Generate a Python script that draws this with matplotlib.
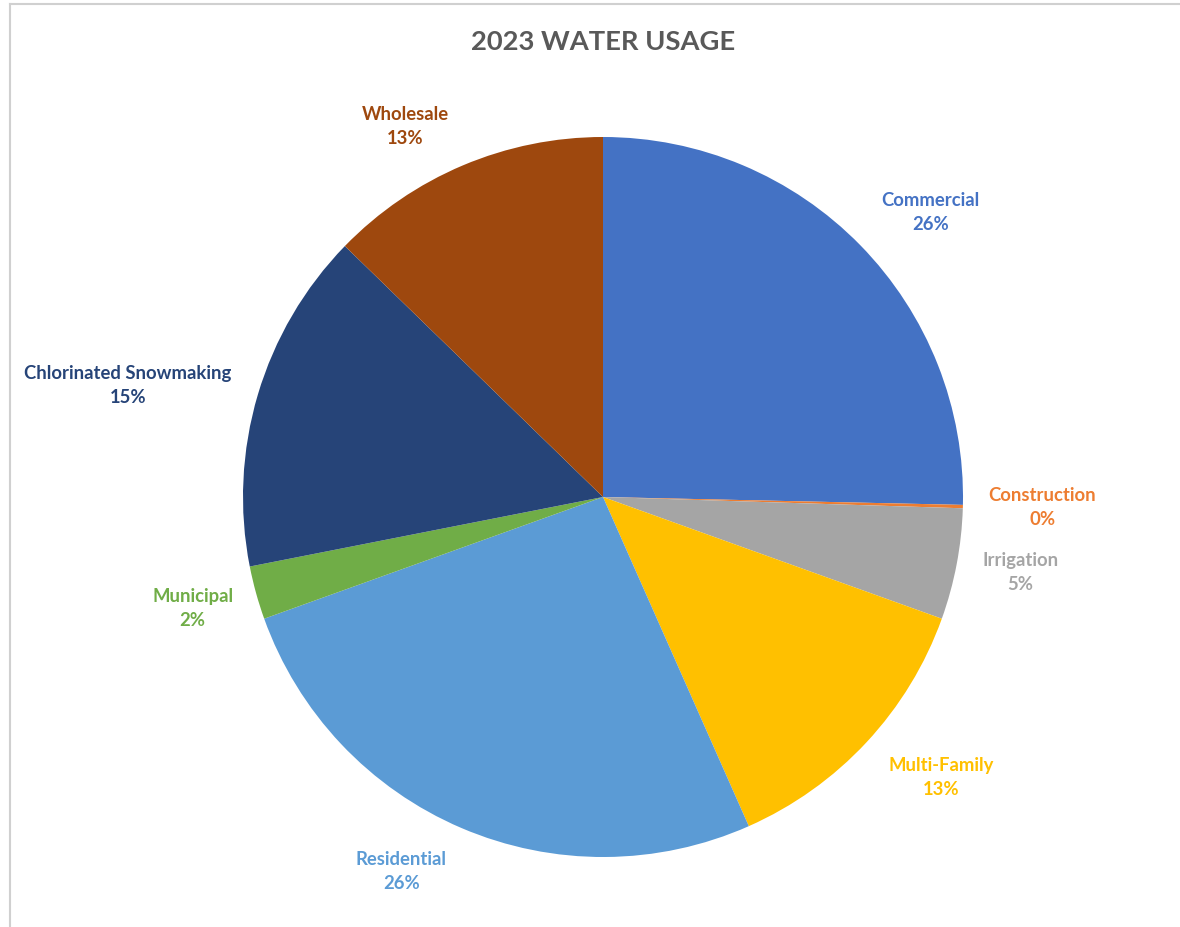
import matplotlib.pyplot as plt

# 2023 water usage shares (percent), clockwise from 12 o'clock
categories = ['Commercial', 'Construction', 'Irrigation', 'Multi-Family',
              'Residential', 'Municipal', 'Chlorinated Snowmaking', 'Wholesale']
shares = [25.4, 0.15, 5.0, 12.9, 26.2, 2.4, 15.4, 12.75]
pct_labels = ['26%', '0%', '5%', '13%', '26%', '2%', '15%', '13%']
colors = ['#4472C4', '#ED7D31', '#A5A5A5', '#FFC000',
          '#5B9BD5', '#70AD47', '#264478', '#9E480E']

# label centres, in units of the pie radius
label_pos = [(0.91, 0.79), (1.22, -0.03), (1.16, -0.21), (0.94, -0.78),
             (-0.56, -1.04), (-1.14, -0.31), (-1.32, 0.31), (-0.55, 1.03)]

plt.rcParams['font.family'] = ['Lato', 'DejaVu Sans']

fig = plt.figure(figsize=(11.8, 9.27), dpi=100)
ax = fig.add_axes([0, 0, 1, 1])
ax.pie(shares, colors=colors, startangle=90, counterclock=False, radius=1,
       wedgeprops=dict(linewidth=0))
ax.set_xlim(-603 / 360, (1180 - 603) / 360)
ax.set_ylim(-(927 - 497) / 360, 497 / 360)
ax.set_aspect('equal')
ax.axis('off')

for name, pct, col, (x, y) in zip(categories, pct_labels, colors, label_pos):
    ax.text(x, y, name + '\n' + pct, color=col, fontsize=13.3, fontweight='bold',
            ha='center', va='center', linespacing=1.5)

fig.text(603 / 1180, 1 - 42 / 927, '2023 WATER USAGE', ha='center', va='center',
         fontsize=19.7, fontweight='bold', color='#595959')

# chart area border (top and left edges visible)
fig.add_artist(plt.Line2D([10 / 1180, 1], [1 - 4 / 927, 1 - 4 / 927],
                          color='#D0D0D0', lw=1.5))
fig.add_artist(plt.Line2D([10 / 1180, 10 / 1180], [0, 1 - 4 / 927],
                          color='#D0D0D0', lw=1.5))

fig.savefig('out.png', dpi=100)
